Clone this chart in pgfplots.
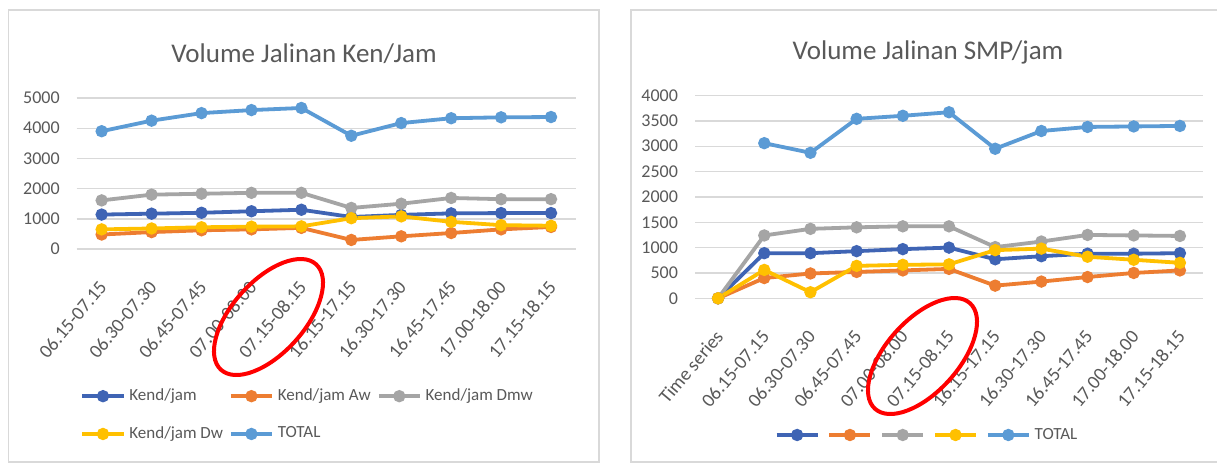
\documentclass[border=0pt]{standalone}
\usepackage{pgfplots}
\pgfplotsset{compat=1.18}
\usepackage{fontspec}
\setmainfont{Carlito}
\definecolor{cA}{HTML}{3F64B4}
\definecolor{cB}{HTML}{ED7D31}
\definecolor{cC}{HTML}{A5A5A5}
\definecolor{cD}{HTML}{FFC000}
\definecolor{cE}{HTML}{5B9BD5}
\definecolor{txt}{HTML}{595959}
\definecolor{gridc}{HTML}{D9D9D9}
\definecolor{panel}{HTML}{D9D9D9}
\pgfplotsset{
  xlchart/.style={
    scale only axis,
    axis line style={draw=none},
    tick style={draw=none},
    major tick length=0pt,
    ymajorgrids,
    grid style={gridc, line width=0.7pt},
    scaled y ticks=false,
    /pgf/number format/assume math mode=true,
    /pgf/number format/1000 sep={},
    yticklabel style={font=\fontsize{9}{10}\selectfont, text=txt, xshift=-5pt},
    xticklabel style={font=\fontsize{9.6}{11}\selectfont, text=txt, xshift=-2pt, yshift=-15pt, rotate=50, anchor=north east, inner sep=0pt},
    xtick={0,...,10},
    legend cell align=left,
    legend image code/.code={\draw[mark repeat=2,mark phase=2] plot coordinates {(0pt,0pt)(10.25pt,0pt)(20.5pt,0pt)};},
    every axis plot/.append style={line width=1.9pt, mark=*, mark size=2.1pt, mark options={solid}},
  }
}
\begin{document}
\begin{tikzpicture}
\useasboundingbox (0,0) rectangle (608.5pt,231.5pt);
\fill[white] (0,0) rectangle (608.5pt,231.5pt);
% panels
\draw[panel, line width=0.8pt] (4.3pt,0.5pt) rectangle (299.5pt,226.5pt);
\draw[panel, line width=0.8pt] (315.5pt,0.5pt) rectangle (612pt,226.5pt);
% titles
\node[text=txt, font=\fontsize{13.5}{16}\selectfont] at (152pt,204.5pt) {Volume Jalinan Ken/Jam};
\node[text=txt, font=\fontsize{13.5}{16}\selectfont] at (464pt,205.5pt) {Volume Jalinan SMP/jam};

\begin{axis}[xlchart,
  at={(38.35pt,107pt)}, anchor=south west,
  width=249.65pt, height=75.5pt,
  xmin=-0.5, xmax=9.5, ymin=0, ymax=5000,
  ytick={0,1000,...,5000},
  xticklabels={06.15-07.15,06.30-07.30,06.45-07.45,07.00-08.00,07.15-08.15,16.15-17.15,16.30-17.30,16.45-17.45,17.00-18.00,17.15-18.15},
  legend style={draw=none, fill=none, font=\fontsize{8.5}{10}\selectfont, text=txt,
    at={(-0.005,-0.87)}, anchor=north west, legend columns=3,
    /tikz/every even column/.append style={column sep=1pt}, row sep=7.5pt},
]
\addplot[cA] coordinates {(0,1140)(1,1170)(2,1200)(3,1250)(4,1300)(5,1060)(6,1130)(7,1180)(8,1190)(9,1190)};
\addlegendentry{Kend/jam}
\addplot[cB] coordinates {(0,480)(1,560)(2,620)(3,650)(4,700)(5,300)(6,420)(7,530)(8,650)(9,730)};
\addlegendentry{Kend/jam Aw}
\addplot[cC] coordinates {(0,1610)(1,1800)(2,1830)(3,1860)(4,1860)(5,1360)(6,1500)(7,1690)(8,1650)(9,1650)};
\addlegendentry{Kend/jam Dmw}
\addplot[cD] coordinates {(0,650)(1,680)(2,720)(3,740)(4,750)(5,1020)(6,1080)(7,900)(8,790)(9,770)};
\addlegendentry{Kend/jam Dw}
\addplot[cE] coordinates {(0,3900)(1,4250)(2,4500)(3,4600)(4,4670)(5,3750)(6,4170)(7,4330)(8,4360)(9,4370)};
\addlegendentry{TOTAL}
\end{axis}

\begin{axis}[xlchart,
  at={(347.5pt,82.35pt)}, anchor=south west,
  width=254pt, height=101.4pt,
  xmin=-0.5, xmax=10.5, ymin=0, ymax=4000,
  ytick={0,500,...,4000},
  xticklabels={Time series,06.15-07.15,06.30-07.30,06.45-07.45,07.00-08.00,07.15-08.15,16.15-17.15,16.30-17.30,16.45-17.45,17.00-18.00,17.15-18.15},
  legend style={draw=none, fill=none, font=\fontsize{8.5}{10}\selectfont, text=txt,
    at={(0.4587,-0.674)}, anchor=center, legend columns=5,
    /tikz/every even column/.append style={column sep=0pt}},
]
\addplot[cA] coordinates {(0,0)(1,890)(2,890)(3,930)(4,970)(5,1000)(6,770)(7,830)(8,880)(9,880)(10,890)};
\addlegendentry{}
\addplot[cB] coordinates {(0,0)(1,400)(2,490)(3,520)(4,550)(5,580)(6,250)(7,330)(8,420)(9,500)(10,550)};
\addlegendentry{}
\addplot[cC] coordinates {(0,0)(1,1240)(2,1370)(3,1400)(4,1420)(5,1420)(6,1010)(7,1120)(8,1250)(9,1240)(10,1230)};
\addlegendentry{}
\addplot[cD] coordinates {(0,0)(1,560)(2,120)(3,640)(4,660)(5,670)(6,950)(7,980)(8,820)(9,760)(10,700)};
\addlegendentry{}
\addplot[cE] coordinates {(1,3060)(2,2870)(3,3540)(4,3600)(5,3670)(6,2950)(7,3300)(8,3380)(9,3390)(10,3400)};
\addlegendentry{TOTAL}
\end{axis}

% red annotation ellipses
\draw[red, line width=2pt, rotate around={48:(134.25pt,73pt)}] (134.25pt,73pt) ellipse [x radius=35.5pt, y radius=18pt];
\draw[red, line width=2pt, rotate around={48:(461.25pt,53.5pt)}] (461.25pt,53.5pt) ellipse [x radius=35.5pt, y radius=18pt];
\end{tikzpicture}
\end{document}
